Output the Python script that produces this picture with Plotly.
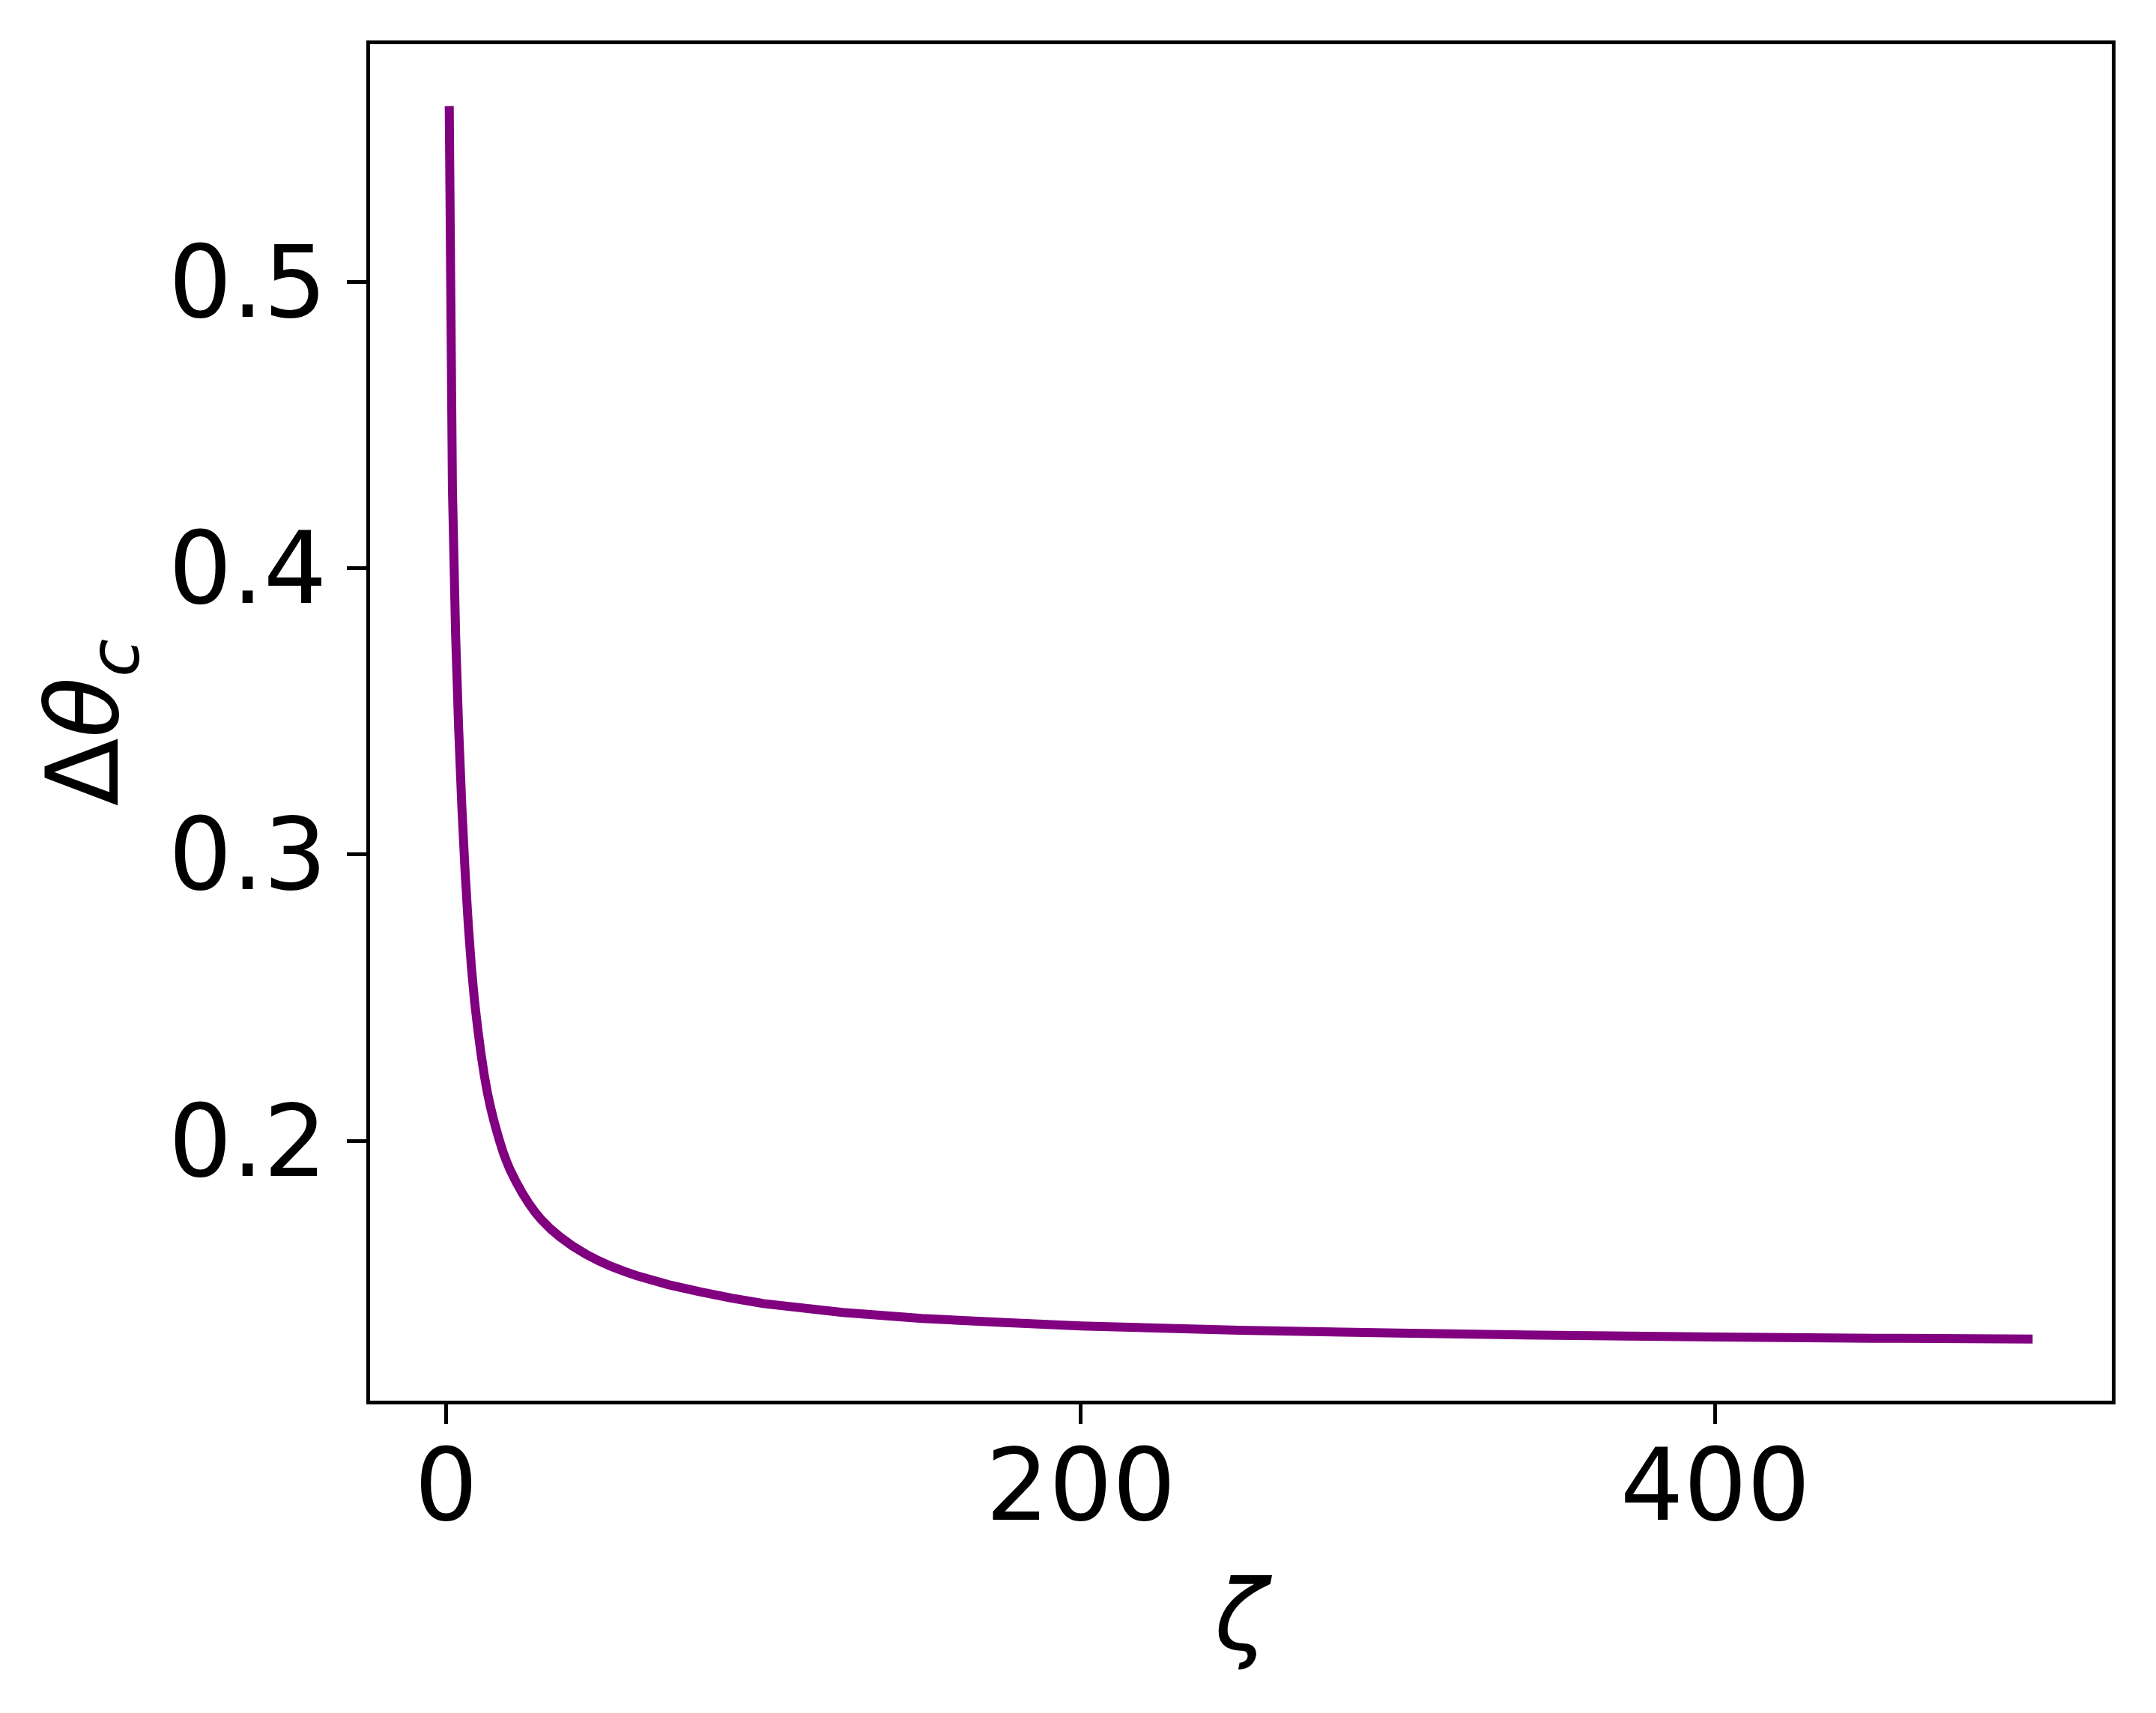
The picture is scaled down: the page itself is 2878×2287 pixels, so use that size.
import plotly.graph_objects as go

# zeta values and the critical angle spread
zeta = [1, 2, 3, 4, 5, 6, 7, 8, 9, 10, 11, 12, 13, 14, 15, 16, 17, 18, 19, 20,
        22, 24, 26, 28, 30, 33, 36, 40, 44, 48, 52, 56, 60, 70, 80, 90, 100,
        125, 150, 175, 200, 250, 300, 350, 400, 450, 500]
delta_theta_c = [0.5613, 0.428, 0.377, 0.343, 0.316, 0.294, 0.2755, 0.2605, 0.2485,
                 0.239, 0.2305, 0.2232, 0.2170, 0.2118, 0.2073, 0.2033, 0.1995,
                 0.1960, 0.1930, 0.1903, 0.1858, 0.1818, 0.1783, 0.1752, 0.1725,
                 0.1692, 0.1664, 0.1632, 0.1605, 0.1582, 0.1562, 0.1545, 0.1530,
                 0.1498, 0.1473, 0.1451, 0.1432, 0.1401, 0.1380, 0.1366, 0.1354,
                 0.1339, 0.1329, 0.1321, 0.1315, 0.1311, 0.1308]

x_ticks = [0, 200, 400]
y_ticks = [0.2, 0.3, 0.4, 0.5]

font_family = "DejaVu Sans"

# simplify off, otherwise plotly drops points and the curve gets corners
line_trace = go.Scatter(x=zeta, y=delta_theta_c, mode="lines",
                        line=dict(color="#800080", width=12, simplify=False),
                        showlegend=False)

axis_style = dict(
    showline=True, mirror=True, linecolor="black", linewidth=5,
    ticks="outside", ticklen=26, tickwidth=5, tickcolor="black",
    showgrid=False, zeroline=False,
    tickfont=dict(family=font_family, size=133, color="black"),
)

fig = go.Figure(data=[line_trace])
# the page body adds an 8px offset, so the margins are trimmed by that much
fig.update_layout(
    width=2878, height=2287,
    margin=dict(l=486, r=67, t=51, b=425),
    plot_bgcolor="white", paper_bgcolor="white",
    font=dict(family=font_family, color="black"),
)
fig.update_xaxes(
    **axis_style, range=[-23.95, 524.95], tickvals=x_ticks,
    ticklabelstandoff=-32,
    title=dict(text="<i>ζ</i>", font=dict(family=font_family, size=130), standoff=54),
)
fig.update_yaxes(
    **axis_style, range=[0.1093, 0.5829], tickvals=y_ticks,
    tickformat=".1f", ticklabelstandoff=0,
    title=dict(text="Δ<i>θ</i><sub><i>c</i></sub>",
               font=dict(family=font_family, size=133), standoff=24),
)

fig.write_html("out.html")
